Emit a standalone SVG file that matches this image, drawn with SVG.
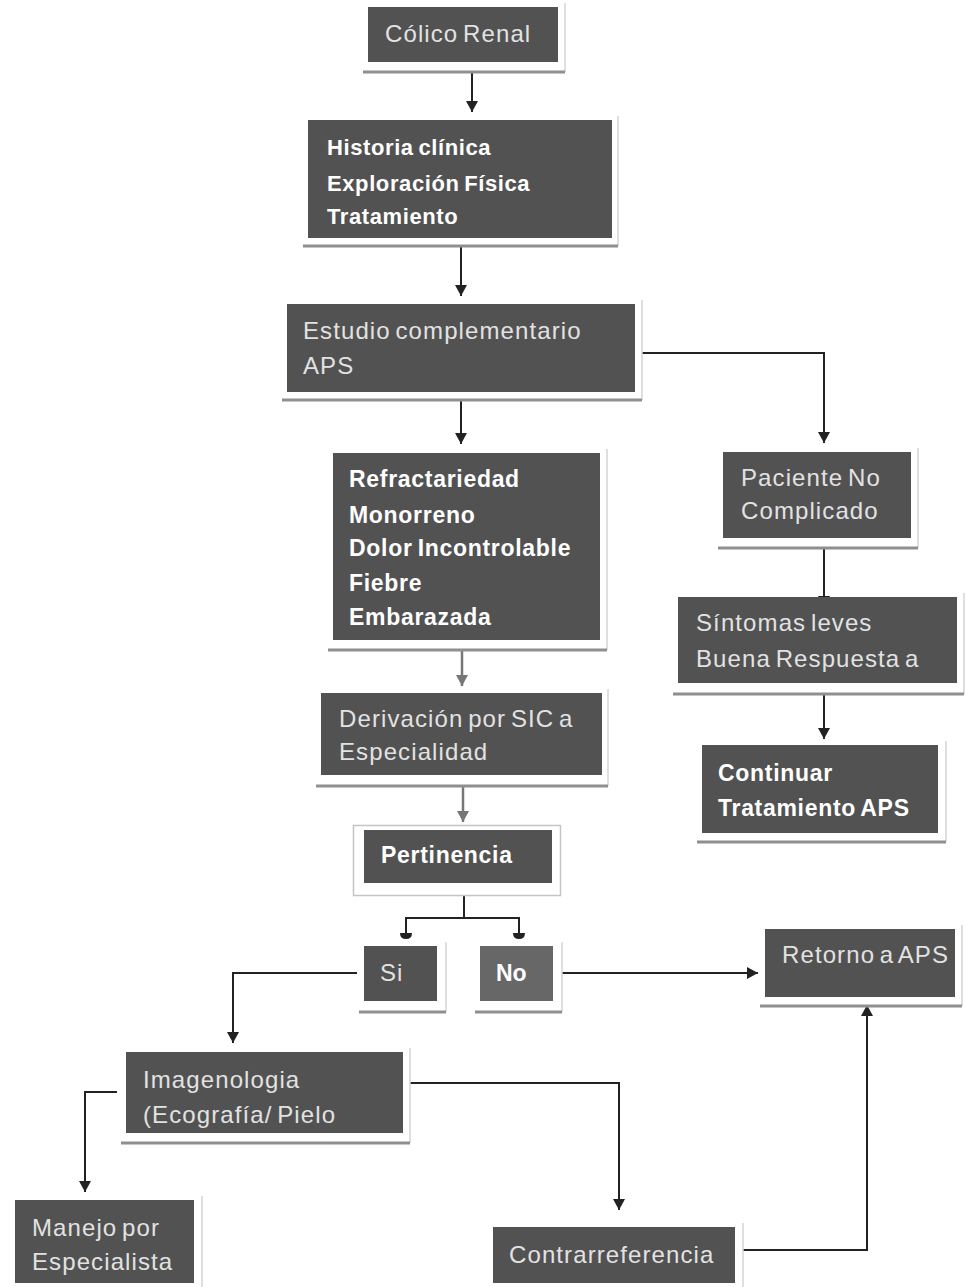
<svg xmlns="http://www.w3.org/2000/svg" width="966" height="1287" viewBox="0 0 966 1287">
<style>
.box{fill:#525252}
.boxNo{fill:#676767}
.edge{stroke:#d4d4d4;stroke-width:1.5;fill:none}
.base{stroke:#8f8f8f;stroke-width:3;fill:none}
.t{font-family:"Liberation Sans",Arial,sans-serif;font-size:24px;letter-spacing:1.1px;word-spacing:-3px;fill:#e2e2e2}
.tb{font-family:"Liberation Sans",Arial,sans-serif;font-size:23px;font-weight:bold;letter-spacing:0.7px;word-spacing:-2px;fill:#ffffff}
.tb2{font-family:"Liberation Sans",Arial,sans-serif;font-size:22px;font-weight:bold;letter-spacing:0.6px;word-spacing:-2px;fill:#ffffff}
.c{stroke:#222222;stroke-width:2;fill:none}
.cg{stroke:#777777;stroke-width:2.5;fill:none}
</style>
<defs>
<marker id="ah" markerUnits="userSpaceOnUse" markerWidth="12" markerHeight="12" viewBox="0 0 12 12" refX="11" refY="6" orient="auto">
<path d="M0,0 L11,6 L0,12 Z" fill="#222222"/>
</marker>
<marker id="ahg" markerUnits="userSpaceOnUse" markerWidth="12" markerHeight="12" viewBox="0 0 12 12" refX="11" refY="6" orient="auto">
<path d="M0,0 L11,6 L0,12 Z" fill="#777777"/>
</marker>
<marker id="bar" markerUnits="userSpaceOnUse" markerWidth="8" markerHeight="14" viewBox="0 0 8 14" refX="7" refY="7" orient="auto">
<path d="M2,1 Q8,1 8,7 Q8,13 2,13 Z" fill="#222222"/>
</marker>
</defs>
<rect width="966" height="1287" fill="#ffffff"/>

<g id="connectors">
<path class="c" d="M472,72 V112" marker-end="url(#ah)"/>
<path class="c" d="M461,247 V296" marker-end="url(#ah)"/>
<path class="c" d="M461,400 V444" marker-end="url(#ah)"/>
<path class="c" d="M642,353 H824 V443" marker-end="url(#ah)"/>
<path class="c" d="M824,548 V607" marker-end="url(#ah)"/>
<path class="c" d="M824,695 V739" marker-end="url(#ah)"/>
<path class="cg" d="M462,650 V686" marker-end="url(#ahg)"/>
<path class="cg" d="M463,787 V822" marker-end="url(#ahg)"/>
<path class="c" d="M464,895 V918"/>
<path class="c" d="M464,918 H406 V938" marker-end="url(#bar)"/>
<path class="c" d="M464,918 H519 V938" marker-end="url(#bar)"/>
<path class="c" d="M357,973 H233 V1043" marker-end="url(#ah)"/>
<path class="c" d="M562,973 H758" marker-end="url(#ah)"/>
<path class="c" d="M410,1083 H619 V1210" marker-end="url(#ah)"/>
<path class="c" d="M117,1092 H85 V1192" marker-end="url(#ah)"/>
<path class="c" d="M743,1250 H867 V1005" marker-end="url(#ah)"/>
</g>

<g id="colico">
<path class="edge" d="M565,3 V72"/>
<path class="base" d="M363,72 H565"/>
<rect class="box" x="368" y="7" width="190" height="55"/>
<text class="t" x="385" y="42">Cólico Renal</text>
</g>

<g id="historia">
<path class="edge" d="M618,116 V246"/>
<path class="base" d="M303,246 H618"/>
<rect class="box" x="308" y="120" width="304" height="118"/>
<text class="tb2" x="327" y="155">Historia clínica</text>
<text class="tb2" x="327" y="191">Exploración Física</text>
<text class="tb2" x="327" y="224">Tratamiento</text>
</g>

<g id="estudio">
<path class="edge" d="M642,300 V400"/>
<path class="base" d="M282,400 H642"/>
<rect class="box" x="287" y="304" width="348" height="88"/>
<text class="t" x="303" y="339">Estudio complementario</text>
<text class="t" x="303" y="374">APS</text>
</g>

<g id="refractariedad">
<path class="edge" d="M607,449 V650"/>
<path class="base" d="M328,650 H607"/>
<rect class="box" x="333" y="453" width="267" height="187"/>
<text class="tb" x="349" y="487">Refractariedad</text>
<text class="tb" x="349" y="523">Monorreno</text>
<text class="tb" x="349" y="556">Dolor Incontrolable</text>
<text class="tb" x="349" y="591">Fiebre</text>
<text class="tb" x="349" y="625">Embarazada</text>
</g>

<g id="paciente">
<path class="edge" d="M918,448 V548"/>
<path class="base" d="M718,548 H918"/>
<rect class="box" x="723" y="452" width="188" height="86"/>
<text class="t" x="741" y="486">Paciente No</text>
<text class="t" x="741" y="519">Complicado</text>
</g>

<g id="sintomas">
<path class="edge" d="M964,593 V694"/>
<path class="base" d="M673,694 H964"/>
<rect class="box" x="678" y="597" width="279" height="86"/>
<text class="t" x="696" y="631">Síntomas leves</text>
<text class="t" x="696" y="667">Buena Respuesta a</text>
</g>

<g id="continuar">
<path class="edge" d="M946,741 V842"/>
<path class="base" d="M697,842 H946"/>
<rect class="box" x="702" y="745" width="236" height="88"/>
<text class="tb" x="718" y="781">Continuar</text>
<text class="tb" x="718" y="816">Tratamiento APS</text>
</g>

<g id="derivacion">
<path class="edge" d="M608,689 V786"/>
<path class="base" d="M316,786 H608"/>
<rect class="box" x="321" y="693" width="281" height="82"/>
<text class="t" x="339" y="727">Derivación por SIC a</text>
<text class="t" x="339" y="760">Especialidad</text>
</g>

<g id="pertinencia">
<rect x="353.5" y="825.5" width="207" height="70" fill="#ffffff" stroke="#c4c4c4" stroke-width="1.5"/>
<rect class="box" x="364" y="830" width="188" height="53"/>
<text class="tb" x="381" y="863">Pertinencia</text>
</g>

<g id="si">
<path class="edge" d="M446,942 V1012"/>
<path class="base" d="M359,1012 H446"/>
<rect class="box" x="364" y="946" width="73" height="55"/>
<text class="t" x="380" y="981">Si</text>
</g>

<g id="no">
<path class="edge" d="M562,942 V1012"/>
<path class="base" d="M475,1012 H562"/>
<rect class="boxNo" x="480" y="946" width="73" height="55"/>
<text class="tb" x="496" y="981" style="letter-spacing:0px">No</text>
</g>

<g id="retorno">
<path class="edge" d="M962,925 V1006"/>
<path class="base" d="M760,1006 H962"/>
<rect class="box" x="765" y="929" width="190" height="68"/>
<text class="t" x="782" y="963">Retorno a APS</text>
</g>

<g id="imagenologia">
<path class="edge" d="M410,1048 V1143"/>
<path class="base" d="M121,1143 H410"/>
<rect class="box" x="126" y="1052" width="277" height="81"/>
<text class="t" x="143" y="1088">Imagenologia</text>
<text class="t" x="143" y="1123">(Ecografía/ Pielo</text>
</g>

<g id="manejo">
<path class="edge" d="M202,1196 V1287"/>
<rect class="box" x="15" y="1200" width="179" height="83"/>
<text class="t" x="32" y="1236">Manejo por</text>
<text class="t" x="32" y="1270">Especialista</text>
</g>

<g id="contrarreferencia">
<path class="edge" d="M743,1223 V1287"/>
<rect class="box" x="493" y="1227" width="242" height="56"/>
<text class="t" x="509" y="1263">Contrarreferencia</text>
</g>
</svg>
